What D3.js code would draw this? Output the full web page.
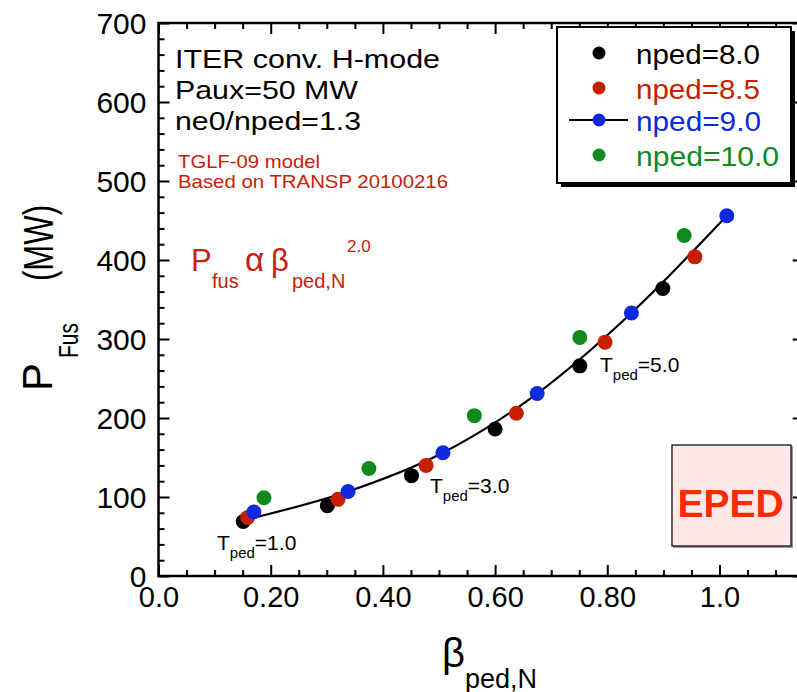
<!DOCTYPE html>
<html><head><meta charset="utf-8">
<script src="https://cdn.jsdelivr.net/npm/d3@7"></script>
<style>
html,body{margin:0;padding:0;background:#fff;}
svg text{font-family:"Liberation Sans",Arial,Helvetica,sans-serif;}
</style></head>
<body>
<svg id="chart" width="797" height="692"></svg>
<script>
// ---- data ----
const beta80  = [0.151, 0.301, 0.451, 0.600, 0.751, 0.899];
const pfus80  = [69, 89, 127, 186, 266, 364];
const beta85  = [0.159, 0.320, 0.477, 0.638, 0.796, 0.956];
const pfus85  = [74, 97, 140, 206, 296, 404];
const beta90  = [0.170, 0.338, 0.507, 0.675, 0.843, 1.013];
const pfus90  = [81, 107, 156, 231, 333, 456];
const beta100 = [0.188, 0.375, 0.563, 0.751, 0.937];
const pfus100 = [99, 136, 203, 302, 431];
const fitBeta = [0.177, 0.338, 0.507, 0.675, 0.843, 1.013];
const fitPfus = [75, 107, 156, 231, 333, 456];
const seriesNames = ["nped=8.0", "nped=8.5", "nped=9.0", "nped=10.0"];
const xTickValues = [0.0, 0.2, 0.4, 0.6, 0.8, 1.0];
const xTickLabels = ["0.0", "0.20", "0.40", "0.60", "0.80", "1.0"];
const yTickValues = [0, 100, 200, 300, 400, 500, 600, 700];
const yTickLabels = ["0", "100", "200", "300", "400", "500", "600", "700"];
const tpedLabels = ["=1.0", "=3.0", "=5.0"];

// ---- layout ----
const colors = ["#000000", "#c81e00", "#1028e0", "#108a1e"];
const L = 158.5, T = 23, B = 576;
const x = d3.scaleLinear().domain([0, 1.15]).range([L, L + 561 * 1.15]);
const y = d3.scaleLinear().domain([0, 700]).range([B, T]);
const R = x(1.15);
const svg = d3.select("#chart");

const minorX = d3.range(0, 1.1501, 0.05).filter(v => Math.abs(v / 0.2 - Math.round(v / 0.2)) > 1e-6);
const minorY = d3.range(0, 701, 20).filter(v => v % 100 !== 0);

function styleAxis(g) {
  g.select(".domain").remove();
  g.selectAll(".tick line").attr("stroke", "#000").attr("stroke-width", 2);
}
// bottom
svg.append("g").attr("transform", `translate(0,${B})`)
  .call(d3.axisBottom(x).tickValues(xTickValues).tickSize(-11).tickPadding(0)
    .tickFormat((d, i) => xTickLabels[i]))
  .call(styleAxis)
  .call(g => g.selectAll(".tick text").attr("font-size", 29).attr("fill", "#000")
    .attr("dy", null).attr("y", 31));
svg.append("g").attr("transform", `translate(0,${B})`)
  .call(d3.axisBottom(x).tickValues(minorX).tickSize(-6).tickFormat(""))
  .call(styleAxis);
// top
svg.append("g").attr("transform", `translate(0,${T})`)
  .call(d3.axisTop(x).tickValues(xTickValues).tickSize(-11).tickFormat(""))
  .call(styleAxis);
svg.append("g").attr("transform", `translate(0,${T})`)
  .call(d3.axisTop(x).tickValues(minorX).tickSize(-6).tickFormat(""))
  .call(styleAxis);
// left
svg.append("g").attr("transform", `translate(${L},0)`)
  .call(d3.axisLeft(y).tickValues(yTickValues).tickSize(-11).tickPadding(0)
    .tickFormat((d, i) => yTickLabels[i]))
  .call(styleAxis)
  .call(g => g.selectAll(".tick text").attr("font-size", 30).attr("fill", "#000")
    .attr("x", -12).attr("dy", "0.36em"));
svg.append("g").attr("transform", `translate(${L},0)`)
  .call(d3.axisLeft(y).tickValues(minorY).tickSize(-6).tickFormat(""))
  .call(styleAxis);
// right
svg.append("g").attr("transform", `translate(${R},0)`)
  .call(d3.axisRight(y).tickValues(yTickValues).tickSize(-11).tickFormat(""))
  .call(styleAxis);
svg.append("g").attr("transform", `translate(${R},0)`)
  .call(d3.axisRight(y).tickValues(minorY).tickSize(-6).tickFormat(""))
  .call(styleAxis);
// frame
svg.append("path")
  .attr("d", `M${L},${T}H${R}V${B}H${L}Z`)
  .attr("fill", "none").attr("stroke", "#000").attr("stroke-width", 2.5);

// ---- fit curve ----
const fitPts = fitBeta.map((b, i) => [b, fitPfus[i]]);
svg.append("path")
  .attr("d", d3.line().x(d => x(d[0])).y(d => y(d[1])).curve(d3.curveMonotoneX)(fitPts))
  .attr("fill", "none").attr("stroke", "#000").attr("stroke-width", 2.2);

// ---- points ----
const allSeries = [[beta80, pfus80], [beta85, pfus85], [beta90, pfus90], [beta100, pfus100]];
allSeries.forEach(([bs, ps], k) => {
  svg.append("g").selectAll("circle").data(bs.map((b, i) => [b, ps[i]])).join("circle")
    .attr("cx", d => x(d[0])).attr("cy", d => y(d[1])).attr("r", 7.5)
    .attr("fill", colors[k]);
});

// ---- T_ped labels ----
const tpedPos = [[217, 550], [430, 493], [600, 372]];
tpedLabels.forEach((lab, i) => {
  const [tx, ty] = tpedPos[i];
  const t = svg.append("text").attr("x", tx).attr("y", ty).attr("font-size", 21).attr("fill", "#000");
  t.append("tspan").text("T");
  t.append("tspan").attr("font-size", 15).attr("dy", 8).text("ped");
  t.append("tspan").attr("dy", -8).text(lab);
});

// ---- annotation texts ----
const info = [["ITER conv. H-mode", 68, 265], ["Paux=50 MW", 99, 183], ["ne0/nped=1.3", 130, 186]];
info.forEach(([s, yy, len]) => {
  svg.append("text").attr("x", 175).attr("y", yy).attr("font-size", 26)
    .attr("textLength", len).attr("lengthAdjust", "spacingAndGlyphs").attr("fill", "#000").text(s);
});
const red = "#c8200a";
svg.append("text").attr("x", 178).attr("y", 168).attr("font-size", 19).attr("fill", red)
  .attr("textLength", 142).attr("lengthAdjust", "spacingAndGlyphs").text("TGLF-09 model");
svg.append("text").attr("x", 178).attr("y", 188).attr("font-size", 19).attr("fill", red)
  .attr("textLength", 270).attr("lengthAdjust", "spacingAndGlyphs").text("Based on TRANSP 20100216");
// formula
const fg = svg.append("g").attr("fill", red);
fg.append("text").attr("x", 191).attr("y", 271).attr("font-size", 31).text("P");
fg.append("text").attr("x", 212).attr("y", 288).attr("font-size", 20).text("fus");
fg.append("text").attr("x", 245).attr("y", 271).attr("font-size", 33).text("α");
fg.append("text").attr("x", 271).attr("y", 271).attr("font-size", 31).text("β");
fg.append("text").attr("x", 292).attr("y", 288).attr("font-size", 20).text("ped,N");
fg.append("text").attr("x", 347).attr("y", 252).attr("font-size", 17).text("2.0");

// ---- axis titles ----
svg.append("text").attr("transform", "translate(52,391) rotate(-90)").attr("font-size", 42).text("P");
svg.append("text").attr("transform", "translate(78,358) rotate(-90)").attr("font-size", 27)
  .attr("textLength", 35).attr("lengthAdjust", "spacingAndGlyphs").text("Fus");
svg.append("text").attr("transform", "translate(53,281) rotate(-90)").attr("font-size", 42)
  .attr("textLength", 76).attr("lengthAdjust", "spacingAndGlyphs").text("(MW)");
svg.append("text").attr("x", 442).attr("y", 667).attr("font-size", 40).text("β");
svg.append("text").attr("x", 465).attr("y", 688).attr("font-size", 27).text("ped,N");

// ---- legend ----
const lg = svg.append("g");
lg.append("rect").attr("x", 561).attr("y", 31).attr("width", 234).attr("height", 156).attr("fill", "#000");
lg.append("rect").attr("x", 557).attr("y", 27).attr("width", 234).attr("height", 156)
  .attr("fill", "#fff").attr("stroke", "#000").attr("stroke-width", 2);
const legY = [53, 88, 120, 155];
const legLen = [124, 124, 125, 143];
seriesNames.forEach((nm, i) => {
  if (i === 2) {
    lg.append("line").attr("x1", 569).attr("x2", 628).attr("y1", legY[i]).attr("y2", legY[i])
      .attr("stroke", "#000").attr("stroke-width", 2);
  }
  lg.append("circle").attr("cx", 599).attr("cy", legY[i]).attr("r", 6.5).attr("fill", colors[i]);
  lg.append("text").attr("x", 636).attr("y", legY[i] + 11).attr("font-size", 27)
    .attr("textLength", legLen[i]).attr("lengthAdjust", "spacingAndGlyphs")
    .attr("fill", colors[i]).text(nm);
});

// ---- EPED box ----
svg.append("rect").attr("x", 673).attr("y", 446).attr("width", 120).attr("height", 102).attr("fill", "#999");
svg.append("rect").attr("x", 672).attr("y", 445).attr("width", 119).attr("height", 101)
  .attr("fill", "#ffe8e8").attr("stroke", "#111").attr("stroke-width", 1.3);
svg.append("text").attr("x", 730.5).attr("y", 517).attr("text-anchor", "middle")
  .attr("font-size", 39).attr("font-weight", "bold").attr("fill", "#ff2a00").text("EPED");
</script>
</body></html>
